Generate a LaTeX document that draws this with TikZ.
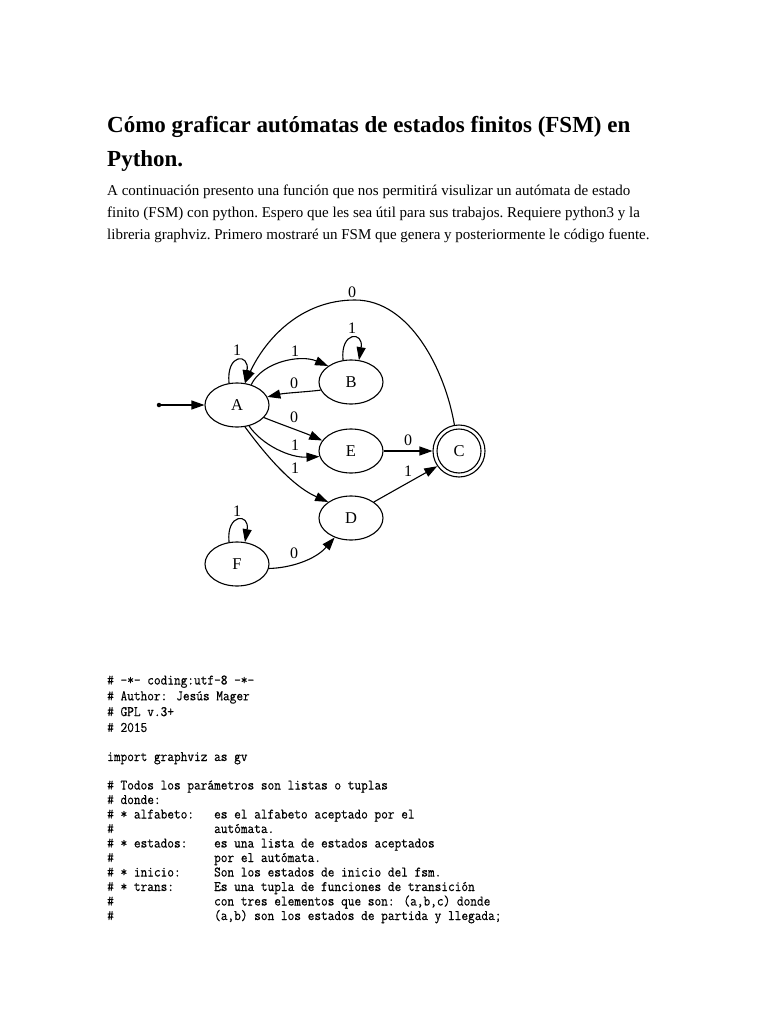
\documentclass[tikz,border=0pt]{standalone}
\usepackage{fontspec}
\setmainfont{Liberation Serif}
\newfontfamily\codefont[FakeStretch=0.895,FakeBold=0.4]{Latin Modern Mono}
\usetikzlibrary{arrows.meta,shapes.geometric}
\tikzset{
  state/.style={ellipse, draw, line width=1.1pt, minimum width=64pt, minimum height=44pt, inner sep=0pt, font=\fontsize{16.5}{18}\selectfont},
  accept/.style={circle, draw, line width=1.1pt, minimum size=52pt, inner sep=0pt, font=\fontsize{16.5}{18}\selectfont},
  inring/.style={circle, draw, line width=1.1pt, minimum size=44pt, inner sep=0pt},
  lbl/.style={inner sep=0pt, font=\fontsize{16}{18}\selectfont},
  edge/.style={line width=1.1pt, -{Triangle[length=13pt,width=9pt]}},
  startdot/.style={circle, fill, inner sep=0pt, minimum size=4.5pt},
  titleline/.style={anchor=base west, inner sep=0pt, font=\bfseries\fontsize{23}{26}\selectfont},
  paraline/.style={anchor=base west, inner sep=0pt, font=\frenchspacing\fontsize{15}{18}\selectfont},
  codeline/.style={anchor=base west, inner sep=0pt, font=\codefont\fontsize{14.5}{16}\selectfont},
}
\begin{document}
\begin{tikzpicture}[x=1pt, y=-1pt]
\fill[white] (0,0) rectangle (768,1024);
\useasboundingbox (0,0) rectangle (768,1024);

% title and paragraph
\node[titleline] (t1) at (107,132.5) {Cómo graficar autómatas de estados finitos (FSM) en};
\node[titleline] (t2) at (107,166.5) {Python.};
\node[paraline] (p1) at (107,195.5) {A continuación presento una función que nos permitirá visulizar un autómata de estado};
\node[paraline] (p2) at (107,217.5) {finito (FSM) con python. Espero que les sea útil para sus trabajos. Requiere python3 y la};
\node[paraline] (p3) at (107,239.5) {libreria graphviz. Primero mostraré un FSM que genera y posteriormente le código fuente.};

% automaton
\node[startdot] (s) at (159,405) {};
\node[state] (A) at (237,405) {A};
\node[state] (B) at (351,382) {B};
\node[state] (E) at (351,451) {E};
\node[state] (D) at (351,518) {D};
\node[state] (F) at (237,564) {F};
\node[accept] (C) at (459,451) {C};
\node[inring] (Cin) at (459,451) {};

\draw[edge] (s) -- (A);
\draw[edge] (A.110) .. controls (226,353) and (250,353) .. (A.70);
\draw[edge] (B.110) .. controls (340,331) and (364,331) .. (B.70);
\draw[edge] (F.110) .. controls (226,513) and (250,513) .. (F.70);
\draw[edge] (A.55) .. controls (262,362) and (300,354) .. (B.145);
\draw[edge] (B.195) .. controls (305,392) and (285,393) .. (A.15);
\draw[edge] (A.-25) .. controls (280,424) and (305,433) .. (E.160);
\draw[edge] (A.-60) .. controls (262,445) and (290,458) .. (E.190);
\draw[edge] (A.-70) .. controls (262,450) and (290,485) .. (D.145);
\draw[edge] (E) -- (C);
\draw[edge] (D.35) .. controls (395,490) and (420,476) .. (C.215);
\draw[edge] (F.-8) .. controls (290,568) and (315,560) .. (D.230);
\draw[edge] (C.100) .. controls (445,370) and (410,300) .. (355,300)
            .. controls (300,300) and (265,340) .. (A.70);

\node[lbl] (lAA) at (237,350) {1};
\node[lbl] (lBB) at (352,328) {1};
\node[lbl] (lFF) at (237,511) {1};
\node[lbl] (lAB) at (295,351) {1};
\node[lbl] (lBA) at (294,383) {0};
\node[lbl] (lAE0) at (294,417) {0};
\node[lbl] (lAE1) at (295,445) {1};
\node[lbl] (lAD) at (295,468) {1};
\node[lbl] (lEC) at (408,440) {0};
\node[lbl] (lDC) at (408,471) {1};
\node[lbl] (lFD) at (294,553) {0};
\node[lbl] (lCA) at (352,292) {0};

% code
\node[codeline] (c1) at (107,684.5) {\# -*- coding:utf-8 -*-};
\node[codeline] (c2) at (107,700.3) {\# Author: Jesús Mager};
\node[codeline] (c3) at (107,716.1) {\# GPL v.3+};
\node[codeline] (c4) at (107,731.9) {\# 2015};
\node[codeline] (c6) at (107,761.0) {import graphviz as gv};
\node[codeline] (c8) at (107,789.5) {\# Todos los parámetros son listas o tuplas};
\node[codeline] (c9) at (107,804.0) {\# donde:};
\node[codeline] (c10) at (107,818.5) {\# * alfabeto:~~~es el alfabeto aceptado por el};
\node[codeline] (c11) at (107,833.0) {\#~~~~~~~~~~~~~~~autómata.};
\node[codeline] (c12) at (107,847.5) {\# * estados:~~~~es una lista de estados aceptados};
\node[codeline] (c13) at (107,862.0) {\#~~~~~~~~~~~~~~~por el autómata.};
\node[codeline] (c14) at (107,876.5) {\# * inicio:~~~~~Son los estados de inicio del fsm.};
\node[codeline] (c15) at (107,891.0) {\# * trans:~~~~~~Es una tupla de funciones de transición};
\node[codeline] (c16) at (107,905.5) {\#~~~~~~~~~~~~~~~con tres elementos que son: (a,b,c) donde};
\node[codeline] (c17) at (107,920.0) {\#~~~~~~~~~~~~~~~(a,b) son los estados de partida y llegada;};
\end{tikzpicture}
\end{document}
